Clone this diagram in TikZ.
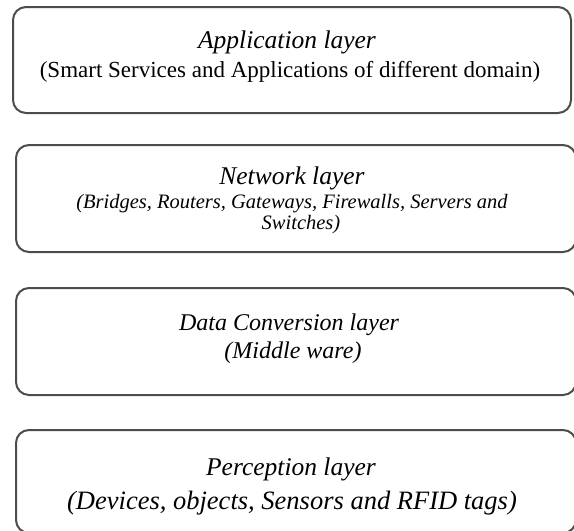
\documentclass[tikz,border=0pt]{standalone}
\usepackage{fontspec}
\setmainfont{Liberation Serif}
\usepackage{xcolor}
\usetikzlibrary{positioning}

\tikzset{
  layer/.style={draw=black!70, line width=2pt, rounded corners=13pt, fill=white},
  title/.style={font=\fontsize{25.5}{30}\selectfont\itshape, inner sep=0pt, anchor=base},
  detail/.style={font=\fontsize{24}{28}\selectfont\itshape, inner sep=0pt, anchor=base},
}

\begin{document}
\begin{tikzpicture}[x=1pt, y=-1pt]
        \clip (0,0) rectangle (574,531);

        % Layer boxes
        \node[layer, minimum width=558pt, minimum height=106pt] (app) at (292, 60) {};
        \node[layer, minimum width=560pt, minimum height=107pt] (net) at (296, 198.5) {};
        \node[layer, minimum width=560pt, minimum height=107pt] (conv) at (296, 341.5) {};
        \node[layer, minimum width=560pt, minimum height=103pt] (perc) at (296, 481.5) {};

        % Application layer
        \node[title] (app-title) at (287, 48) {Application layer};
        \node[detail, font=\fontsize{23}{27}\selectfont] (app-sub) at (290, 77) {(Smart Services and Applications of different domain)};

        % Network layer
        \node[title] (net-title) at (292, 184) {Network layer};
        \node[detail, font=\fontsize{20.5}{24}\selectfont\itshape] (net-sub) at (292, 208) {(Bridges, Routers, Gateways, Firewalls, Servers and};
        \node[detail, font=\fontsize{20.5}{24}\selectfont\itshape] (net-sub2) at (301, 229) {Switches)};

        % Data Conversion layer
        \node[title, font=\fontsize{24}{28}\selectfont\itshape] (conv-title) at (289, 330) {Data Conversion layer};
        \node[detail] (conv-sub) at (293, 358) {(Middle ware)};

        % Perception layer
        \node[title] (perc-title) at (291, 475) {Perception layer};
        \node[detail, font=\fontsize{26.5}{30}\selectfont\itshape] (perc-sub) at (292, 509) {(Devices, objects, Sensors and RFID tags)};

\end{tikzpicture}
\end{document}
